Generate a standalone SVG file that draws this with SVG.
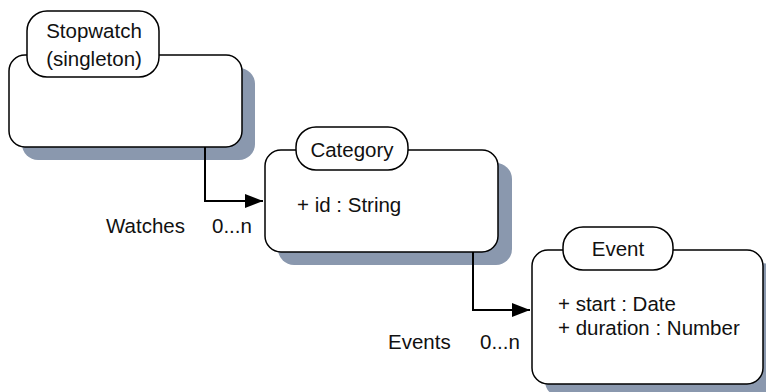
<svg xmlns="http://www.w3.org/2000/svg" width="766" height="392" viewBox="0 0 766 392">
<style>
.shadow{fill:#8a98ae;stroke:none}
.box{fill:#fff;stroke:#000;stroke-width:1.5}
.tab{fill:#fff;stroke:#000;stroke-width:1.5}
text{font-family:"Liberation Sans",Arial,sans-serif;font-size:20.5px;fill:#111}
.c{text-anchor:middle}
.conn{fill:none;stroke:#000;stroke-width:2}
</style>
<defs>
<marker id="arr" markerWidth="18" markerHeight="14" refX="18" refY="7" orient="auto" markerUnits="userSpaceOnUse">
<path d="M0,0 L18,7 L0,14 Z" fill="#000"/>
</marker>
</defs>
<g id="stopwatch">
<rect class="shadow" x="22" y="68" width="233" height="92" rx="16"/>
<rect class="box" x="9" y="55" width="233" height="92" rx="16"/>
<rect class="tab" x="27" y="11" width="132" height="66" rx="20"/>
<text class="c" x="94" y="38">Stopwatch</text>
<text class="c" x="94" y="66">(singleton)</text>
</g>
<g id="category">
<rect class="shadow" x="278" y="163" width="234" height="102" rx="16"/>
<rect class="box" x="265" y="150" width="233" height="102" rx="16"/>
<rect class="tab" x="296" y="127" width="112" height="43" rx="20"/>
<text class="c" x="352" y="157">Category</text>
<text x="297" y="212">+ id : String</text>
</g>
<g id="event">
<rect class="shadow" x="545" y="263" width="233" height="134" rx="16"/>
<rect class="box" x="532" y="250" width="231" height="134" rx="16"/>
<rect class="tab" x="563" y="227" width="110" height="43" rx="20"/>
<text class="c" x="618" y="256">Event</text>
<text x="558" y="311">+ start : Date</text>
<text x="558" y="335">+ duration : Number</text>
</g>
<g id="connectors">
<path class="conn" d="M205,147 V201 H263" marker-end="url(#arr)"/>
<text x="106" y="233">Watches</text>
<text x="212" y="233">0...n</text>
<path class="conn" d="M473,252 V310 H530" marker-end="url(#arr)"/>
<text x="388" y="349">Events</text>
<text x="480" y="349">0...n</text>
</g>
</svg>
